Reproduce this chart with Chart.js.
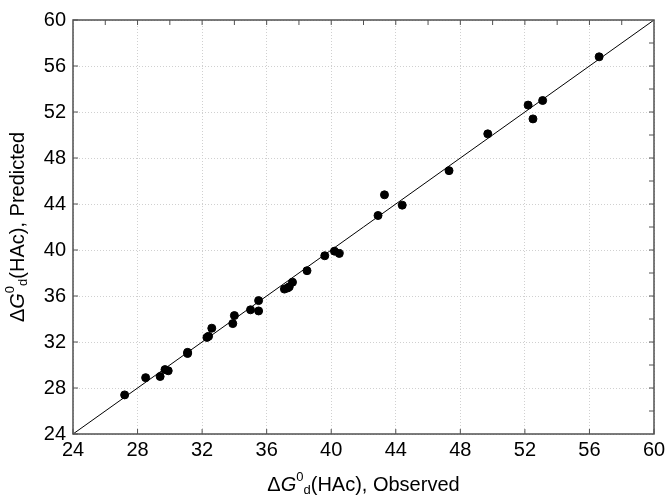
<!DOCTYPE html>
<html>
<head>
<meta charset="utf-8">
<script src="https://cdn.jsdelivr.net/npm/chart.js@4/dist/chart.umd.min.js"></script>
<style>
  body { margin: 0; background: #fff; }
  canvas { display: block; }
</style>
</head>
<body>
<canvas id="chart" width="665" height="498"></canvas>
<script>
// values
const observed = [27.2, 28.5, 29.4, 29.7, 29.9, 31.1, 31.1, 32.3, 32.4, 32.6, 33.9, 34.0, 35.0, 35.5, 35.5, 37.1,
  37.3, 37.4, 37.6, 38.5, 39.6, 40.2, 40.5, 42.9, 43.3, 44.4, 47.3, 49.7, 52.2, 52.5, 53.1, 56.6];
const predicted = [27.4, 28.9, 29.0, 29.6, 29.5, 31.0, 31.1, 32.4, 32.5, 33.2, 33.6, 34.3, 34.8, 34.7, 35.6, 36.6,
  36.7, 36.8, 37.2, 38.2, 39.5, 39.9, 39.7, 43.0, 44.8, 43.9, 46.9, 50.1, 52.6, 51.4, 53.0, 56.8];
const fitLine = [24, 60];
const ticks = [24, 28, 32, 36, 40, 44, 48, 52, 56, 60];
const minorTicks = [26, 28, 30, 32, 34, 36, 38, 40, 42, 44, 46, 48, 50, 52, 54, 56, 58];

const FONT = "'Liberation Sans', Arial, sans-serif";

// draws the mixed-style axis titles: ΔG°d(HAc), ...
function drawTitle(ctx, x, y, tail) {
  const parts = [
    { t: "\u0394", f: "20px " + FONT, dy: 0 },
    { t: "G", f: "italic 20px " + FONT, dy: 0 },
    { t: "0", f: "13px " + FONT, dy: -8 },
    { t: "d", f: "13px " + FONT, dy: 5 },
    { t: "(HAc), " + tail, f: "20px " + FONT, dy: 0 }
  ];
  let w = 0;
  parts.forEach(p => { ctx.font = p.f; w += ctx.measureText(p.t).width; });
  let cx = x - w / 2;
  ctx.textAlign = "left";
  ctx.textBaseline = "middle";
  parts.forEach(p => {
    ctx.font = p.f;
    ctx.fillText(p.t, cx, y + p.dy);
    cx += ctx.measureText(p.t).width;
  });
}

const framePlugin = {
  id: "frame",
  afterDraw(chart) {
    const ctx = chart.ctx;
    const a = chart.chartArea;
    const xs = chart.scales.x, ys = chart.scales.y;
    ctx.save();
    ctx.strokeStyle = "#505050";
    ctx.lineWidth = 1.5;
    ctx.strokeRect(a.left, a.top, a.right - a.left, a.bottom - a.top);
    ctx.lineWidth = 1;
    ctx.beginPath();
    // inward ticks: majors on bottom/left, every 2 on top/right
    ticks.forEach(v => {
      const px = xs.getPixelForValue(v), py = ys.getPixelForValue(v);
      ctx.moveTo(px, a.bottom); ctx.lineTo(px, a.bottom - 5);
      ctx.moveTo(a.left, py); ctx.lineTo(a.left + 5, py);
    });
    minorTicks.forEach(v => {
      const px = xs.getPixelForValue(v), py = ys.getPixelForValue(v);
      ctx.moveTo(px, a.top); ctx.lineTo(px, a.top + 5);
      ctx.moveTo(a.right, py); ctx.lineTo(a.right - 5, py);
    });
    ctx.stroke();

    ctx.fillStyle = "#000";
    drawTitle(ctx, (a.left + a.right) / 2, 485, "Observed");
    ctx.translate(18, (a.top + a.bottom) / 2);
    ctx.rotate(-Math.PI / 2);
    drawTitle(ctx, 0, 0, "Predicted");
    ctx.restore();
  }
};

new Chart(document.getElementById("chart"), {
  type: "scatter",
  data: {
    datasets: [
      {
        type: "line",
        data: fitLine.map(v => ({ x: v, y: v })),
        borderColor: "#000",
        borderWidth: 1,
        pointRadius: 0,
        order: 2
      },
      {
        data: observed.map((v, i) => ({ x: v, y: predicted[i] })),
        backgroundColor: "#000",
        borderColor: "#000",
        pointRadius: 4,
        order: 1
      }
    ]
  },
  options: {
    responsive: false,
    animation: false,
    layout: { padding: { top: 20, right: 0, left: 0, bottom: 0 } },
    plugins: { legend: { display: false }, tooltip: { enabled: false } },
    scales: {
      x: {
        type: "linear",
        min: 24, max: 60,
        afterBuildTicks: s => { s.ticks = ticks.map(v => ({ value: v })); },
        afterFit: s => { s.height = 64; s.paddingRight = 11; },
        grid: { color: "#d0d0d0", drawTicks: false },
        border: { display: false, dash: [1, 2] },
        ticks: { color: "#000", font: { family: FONT, size: 20 }, padding: 4 }
      },
      y: {
        type: "linear",
        min: 24, max: 60,
        afterBuildTicks: s => { s.ticks = ticks.map(v => ({ value: v })); },
        afterFit: s => { s.width = 73; },
        grid: { color: "#d0d0d0", drawTicks: false },
        border: { display: false, dash: [1, 2] },
        ticks: { color: "#000", font: { family: FONT, size: 20 }, padding: 7 }
      }
    }
  },
  plugins: [framePlugin]
});
</script>
</body>
</html>
